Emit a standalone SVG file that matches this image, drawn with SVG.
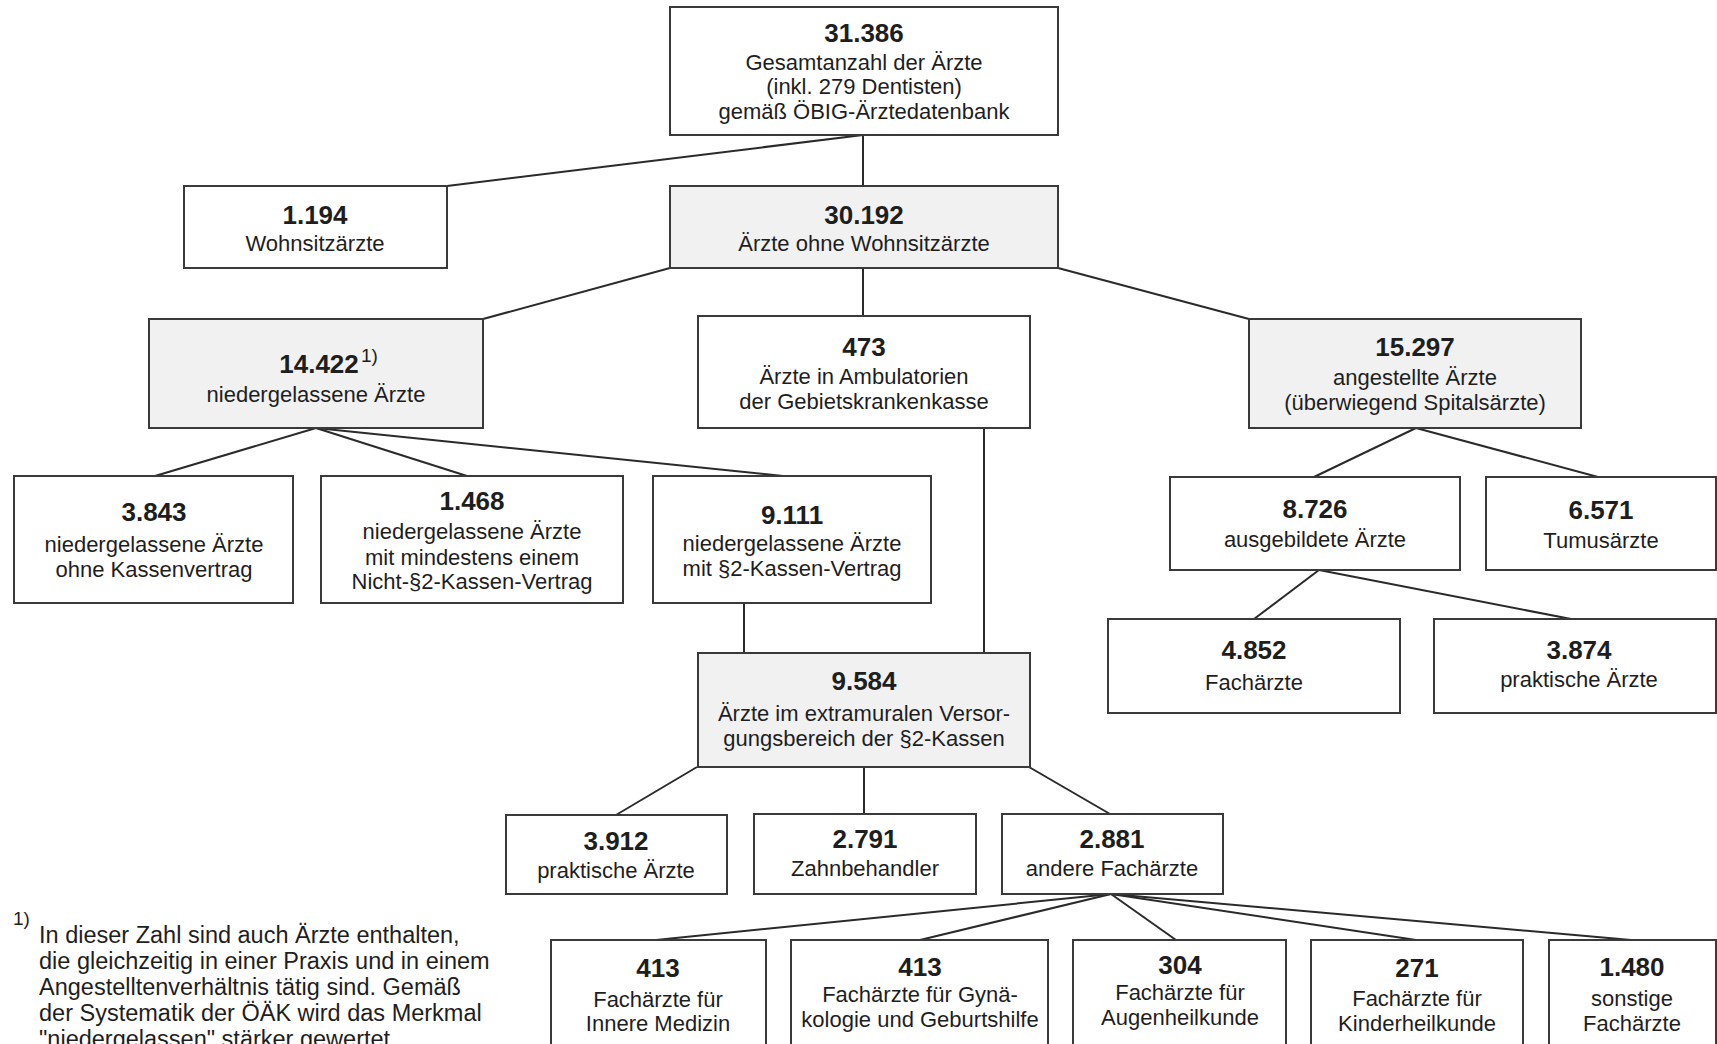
<svg xmlns="http://www.w3.org/2000/svg" width="1717" height="1044" viewBox="0 0 1717 1044">
<style>
.box{fill:#ffffff;stroke:#3a3a3a;stroke-width:2}
.sh{fill:#f1f1f1}
.num{font-family:"Liberation Sans",Arial,sans-serif;font-weight:bold;font-size:26px;fill:#1e1e1e;text-anchor:middle}
.lbl{font-family:"Liberation Sans",Arial,sans-serif;font-size:22px;fill:#1e1e1e;text-anchor:middle}
.sup{font-family:"Liberation Sans",Arial,sans-serif;font-size:19px;fill:#1e1e1e}
.fn{font-family:"Liberation Sans",Arial,sans-serif;font-size:23.5px;fill:#1e1e1e}
.fns{font-family:"Liberation Sans",Arial,sans-serif;font-size:19px;fill:#1e1e1e}
.con line{stroke:#2a2a2a;stroke-width:2;fill:none}
</style>
<rect width="1717" height="1044" fill="#ffffff"/>
<g class="con" id="connectors">
<line x1="863" y1="135" x2="447" y2="186"/>
<line x1="863" y1="135" x2="863" y2="186"/>
<line x1="670" y1="268" x2="483" y2="319"/>
<line x1="863" y1="268" x2="863" y2="316"/>
<line x1="1058" y1="268" x2="1249" y2="319"/>
<line x1="316" y1="428" x2="155" y2="476"/>
<line x1="316" y1="428" x2="467" y2="476"/>
<line x1="316" y1="428" x2="783" y2="476"/>
<line x1="984" y1="428" x2="984" y2="653"/>
<line x1="744" y1="603" x2="744" y2="653"/>
<line x1="1416" y1="428" x2="1314" y2="477"/>
<line x1="1416" y1="428" x2="1598" y2="477"/>
<line x1="1319" y1="570" x2="1254" y2="619"/>
<line x1="1319" y1="570" x2="1571" y2="619"/>
<line x1="697" y1="767" x2="616" y2="815"/>
<line x1="864" y1="767" x2="864" y2="814"/>
<line x1="1029" y1="767" x2="1110" y2="814"/>
<line x1="1111" y1="894" x2="656" y2="940"/>
<line x1="1111" y1="894" x2="920" y2="940"/>
<line x1="1111" y1="894" x2="1176" y2="940"/>
<line x1="1111" y1="894" x2="1416" y2="940"/>
<line x1="1111" y1="894" x2="1631" y2="940"/>
</g>
<g id="n31386"><rect class="box" x="670" y="7" width="388" height="128"/>
<text class="num" x="864" y="42">31.386</text>
<text class="lbl" x="864" y="70">Gesamtanzahl der Ärzte</text>
<text class="lbl" x="864" y="94">(inkl. 279 Dentisten)</text>
<text class="lbl" x="864" y="119">gemäß ÖBIG-Ärztedatenbank</text></g>
<g id="n1194"><rect class="box" x="184" y="186" width="263" height="82"/>
<text class="num" x="315" y="224">1.194</text>
<text class="lbl" x="315" y="251">Wohnsitzärzte</text></g>
<g id="n30192"><rect class="box sh" x="670" y="186" width="388" height="82"/>
<text class="num" x="864" y="224">30.192</text>
<text class="lbl" x="864" y="251">Ärzte ohne Wohnsitzärzte</text></g>
<g id="n14422"><rect class="box sh" x="149" y="319" width="334" height="109"/>
<text class="num" x="319" y="373">14.422</text>
<text class="sup" x="361" y="362">1)</text>
<text class="lbl" x="316" y="402">niedergelassene Ärzte</text></g>
<g id="n473"><rect class="box" x="698" y="316" width="332" height="112"/>
<text class="num" x="864" y="356">473</text>
<text class="lbl" x="864" y="384">Ärzte in Ambulatorien</text>
<text class="lbl" x="864" y="409">der Gebietskrankenkasse</text></g>
<g id="n15297"><rect class="box sh" x="1249" y="319" width="332" height="109"/>
<text class="num" x="1415" y="356">15.297</text>
<text class="lbl" x="1415" y="385">angestellte Ärzte</text>
<text class="lbl" x="1415" y="410">(überwiegend Spitalsärzte)</text></g>
<g id="n3843"><rect class="box" x="14" y="476" width="279" height="127"/>
<text class="num" x="154" y="521">3.843</text>
<text class="lbl" x="154" y="552">niedergelassene Ärzte</text>
<text class="lbl" x="154" y="577">ohne Kassenvertrag</text></g>
<g id="n1468"><rect class="box" x="321" y="476" width="302" height="127"/>
<text class="num" x="472" y="510">1.468</text>
<text class="lbl" x="472" y="539">niedergelassene Ärzte</text>
<text class="lbl" x="472" y="565">mit mindestens einem</text>
<text class="lbl" x="472" y="589">Nicht-§2-Kassen-Vertrag</text></g>
<g id="n9111"><rect class="box" x="653" y="476" width="278" height="127"/>
<text class="num" x="792" y="524">9.111</text>
<text class="lbl" x="792" y="551">niedergelassene Ärzte</text>
<text class="lbl" x="792" y="576">mit §2-Kassen-Vertrag</text></g>
<g id="n8726"><rect class="box" x="1170" y="477" width="290" height="93"/>
<text class="num" x="1315" y="518">8.726</text>
<text class="lbl" x="1315" y="547">ausgebildete Ärzte</text></g>
<g id="n6571"><rect class="box" x="1486" y="477" width="230" height="93"/>
<text class="num" x="1601" y="519">6.571</text>
<text class="lbl" x="1601" y="548">Tumusärzte</text></g>
<g id="n4852"><rect class="box" x="1108" y="619" width="292" height="94"/>
<text class="num" x="1254" y="659">4.852</text>
<text class="lbl" x="1254" y="690">Fachärzte</text></g>
<g id="n3874"><rect class="box" x="1434" y="619" width="282" height="94"/>
<text class="num" x="1579" y="659">3.874</text>
<text class="lbl" x="1579" y="687">praktische Ärzte</text></g>
<g id="n9584"><rect class="box sh" x="698" y="653" width="332" height="114"/>
<text class="num" x="864" y="690">9.584</text>
<text class="lbl" x="864" y="721">Ärzte im extramuralen Versor-</text>
<text class="lbl" x="864" y="746">gungsbereich der §2-Kassen</text></g>
<g id="n3912"><rect class="box" x="506" y="815" width="221" height="79"/>
<text class="num" x="616" y="850">3.912</text>
<text class="lbl" x="616" y="878">praktische Ärzte</text></g>
<g id="n2791"><rect class="box" x="754" y="814" width="222" height="80"/>
<text class="num" x="865" y="848">2.791</text>
<text class="lbl" x="865" y="876">Zahnbehandler</text></g>
<g id="n2881"><rect class="box" x="1002" y="814" width="221" height="80"/>
<text class="num" x="1112" y="848">2.881</text>
<text class="lbl" x="1112" y="876">andere Fachärzte</text></g>
<g id="n413a"><rect class="box" x="551" y="940" width="215" height="110"/>
<text class="num" x="658" y="977">413</text>
<text class="lbl" x="658" y="1007">Fachärzte für</text>
<text class="lbl" x="658" y="1031">Innere Medizin</text></g>
<g id="n413b"><rect class="box" x="791" y="940" width="257" height="110"/>
<text class="num" x="920" y="976">413</text>
<text class="lbl" x="920" y="1002">Fachärzte für Gynä-</text>
<text class="lbl" x="920" y="1027">kologie und Geburtshilfe</text></g>
<g id="n304"><rect class="box" x="1073" y="940" width="213" height="110"/>
<text class="num" x="1180" y="974">304</text>
<text class="lbl" x="1180" y="1000">Fachärzte für</text>
<text class="lbl" x="1180" y="1025">Augenheilkunde</text></g>
<g id="n271"><rect class="box" x="1311" y="940" width="212" height="110"/>
<text class="num" x="1417" y="977">271</text>
<text class="lbl" x="1417" y="1006">Fachärzte für</text>
<text class="lbl" x="1417" y="1031">Kinderheilkunde</text></g>
<g id="n1480"><rect class="box" x="1549" y="940" width="167" height="110"/>
<text class="num" x="1632" y="976">1.480</text>
<text class="lbl" x="1632" y="1006">sonstige</text>
<text class="lbl" x="1632" y="1031">Fachärzte</text></g>
<g id="footnote">
<text class="fns" x="13" y="925">1)</text>
<text class="fn" x="39" y="943">In dieser Zahl sind auch Ärzte enthalten,</text>
<text class="fn" x="39" y="969">die gleichzeitig in einer Praxis und in einem</text>
<text class="fn" x="39" y="995">Angestelltenverhältnis tätig sind. Gemäß</text>
<text class="fn" x="39" y="1021">der Systematik der ÖÄK wird das Merkmal</text>
<text class="fn" x="39" y="1047">"niedergelassen" stärker gewertet.</text>
</g>
</svg>
